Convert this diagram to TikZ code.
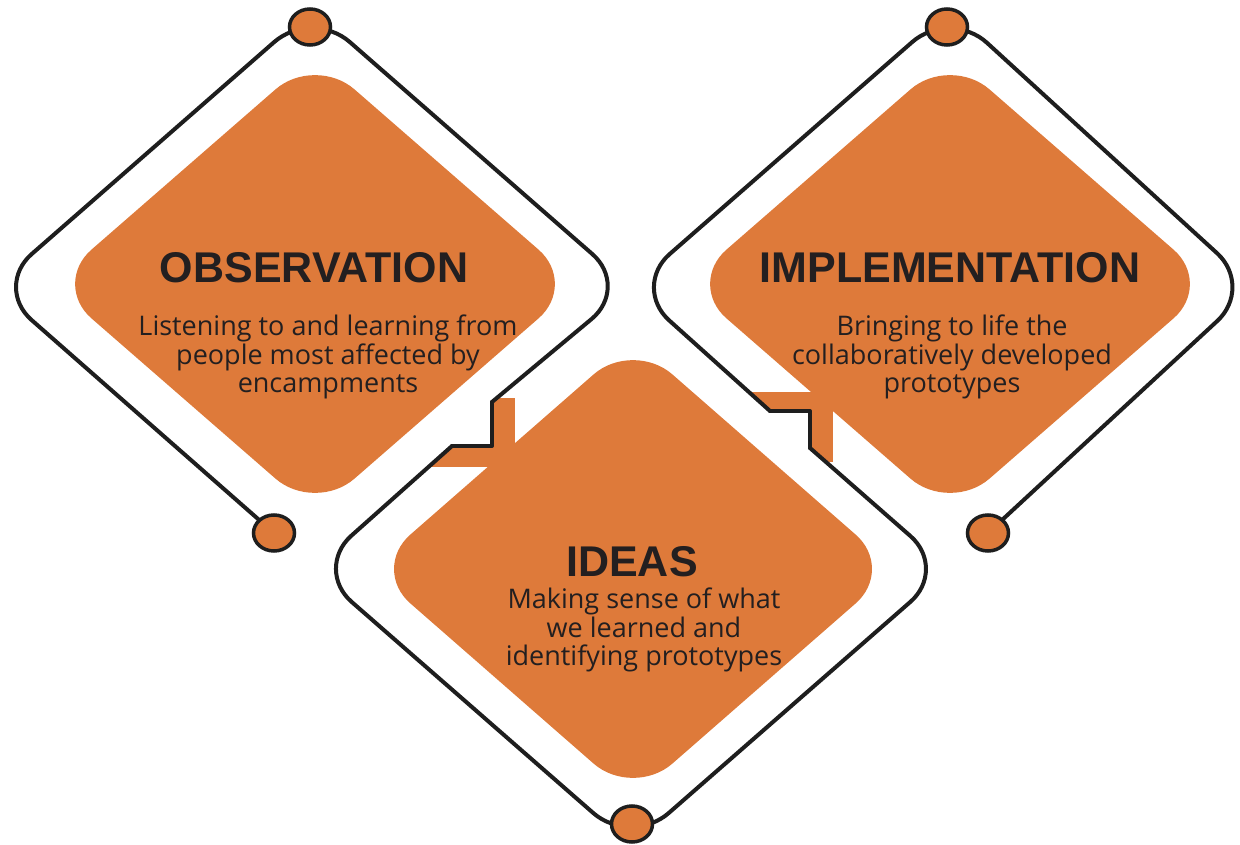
\documentclass[tikz,border=0pt]{standalone}
\usepackage{fontspec}
\setmainfont{Open Sans}
\newfontfamily\headfont{Liberation Sans}
\usetikzlibrary{shapes.geometric}
\definecolor{dtorange}{RGB}{222,122,58}
\definecolor{dtline}{RGB}{30,30,30}
\definecolor{dttext}{RGB}{35,31,32}
\tikzset{
  outline/.style={draw=dtline, line width=4pt, line join=round, line cap=round},
  knob/.style={ellipse, draw=dtline, fill=dtorange, line width=3.5pt, minimum width=41pt, minimum height=36pt, inner sep=0pt},
  heading/.style={font=\headfont\bfseries\fontsize{43}{43}\selectfont, text=dttext, inner sep=0pt, anchor=base},
  body/.style={font=\fontsize{27}{28.5}\selectfont, text=dttext, align=center, inner sep=0pt, anchor=center}
}
\newcommand{\rdiamond}[4]{%
  \fill[dtorange, shift={(#1,#2)}, xscale=#3, yscale=#4]
    (0.15,0.85) .. controls (0.0672,0.9328) and (-0.0672,0.9328) .. (-0.15,0.85)
    -- (-0.85,0.15) .. controls (-0.9328,0.0672) and (-0.9328,-0.0672) .. (-0.85,-0.15)
    -- (-0.15,-0.85) .. controls (-0.0672,-0.9328) and (0.0672,-0.9328) .. (0.15,-0.85)
    -- (0.85,-0.15) .. controls (0.9328,-0.0672) and (0.9328,0.0672) .. (0.85,0.15) -- cycle;}
\begin{document}
\begin{tikzpicture}[x=1pt, y=-1pt]
\useasboundingbox (0,0) rectangle (1240,845);
\fill[white] (0,0) rectangle (1240,845);

% outline corner coordinates
\coordinate (oB) at (274,533);
\coordinate (oL) at (-6,287);
\coordinate (oT) at (312,9);
\coordinate (oR) at (630,287);
\coordinate (n1a) at (492,402);
\coordinate (n1b) at (492,446);
\coordinate (n1c) at (452,446);
\coordinate (iL) at (314,569);
\coordinate (iB) at (631,846);
\coordinate (iR) at (948,569);
\coordinate (n2a) at (810,448);
\coordinate (n2b) at (810,411);
\coordinate (n2c) at (770,411);
\coordinate (mL) at (632,287);
\coordinate (mT) at (950,9);
\coordinate (mR) at (1254,287);
\coordinate (mB) at (988,533);

% orange strips at the notches
\begin{scope}
  \clip (560,345) -- (n1a) -- (n1b) -- (n1c) -- (390,500) -- (600,500) -- (600,345) -- cycle;
  \fill[dtorange] (492,398) rectangle (515,467);
  \fill[dtorange] (425,446) rectangle (515,467);
\end{scope}
\begin{scope}
  \clip (700,348) -- (n2c) -- (n2b) -- (n2a) -- (870,501) -- (900,501) -- (900,330) -- (700,330) -- cycle;
  \fill[dtorange] (745,392) rectangle (833,411);
  \fill[dtorange] (810,392) rectangle (833,462);
\end{scope}

% orange rounded diamonds
\rdiamond{315}{284}{263}{229}
\rdiamond{633}{569}{262}{229}
\rdiamond{950}{284}{263}{229}

% black outline
\draw[outline, rounded corners=50pt] (oB) -- (oL) -- (oT) -- (oR) -- (n1a);
\draw[outline] (n1a) -- (n1b) -- (n1c);
\draw[outline, rounded corners=50pt] (n1c) -- (iL) -- (iB) -- (iR) -- (n2a);
\draw[outline] (n2a) -- (n2b) -- (n2c);
\draw[outline, rounded corners=50pt] (n2c) -- (mL) -- (mT) -- (mR) -- (mB);

% knobs
\node[knob] (kObsTop) at (310,27) {};
\node[knob] (kObsBot) at (274,533) {};
\node[knob] (kImpTop) at (947,27) {};
\node[knob] (kImpBot) at (988,533) {};
\node[knob] (kIdeBot) at (632,824) {};

% texts
\node[heading] (hObs) at (314,283) {OBSERVATION};
\node[body] (bObs) at (328,357) {Listening to and learning from\\people most affected by\\encampments};
\node[heading] (hImp) at (950,283) {IMPLEMENTATION};
\node[body] (bImp) at (952,357) {Bringing to life the\\collaboratively developed\\prototypes};
\node[heading] (hIde) at (632,576) {IDEAS};
\node[body] (bIde) at (644,630) {Making sense of what\\we learned and\\identifying prototypes};
\end{tikzpicture}
\end{document}
